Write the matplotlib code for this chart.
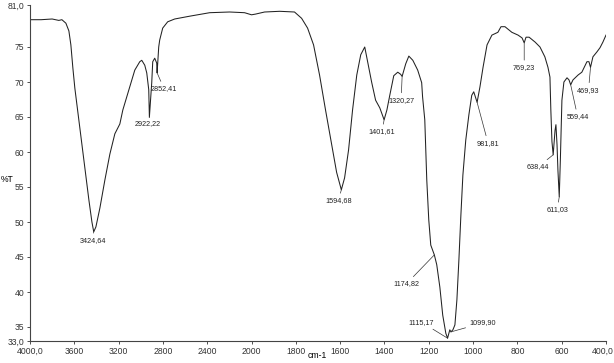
import numpy as np
import matplotlib
matplotlib.use("Agg")
import matplotlib.pyplot as plt
import matplotlib.transforms as mtransforms

# FTIR spectrum (wavenumber cm-1, %T)
wavenumber = [4000, 3900, 3800, 3740, 3712, 3676, 3649, 3631, 3613, 3595, 3568, 3541,
              3505, 3468, 3441, 3424.64, 3405, 3369, 3324, 3279, 3234, 3189, 3162, 3099,
              3054, 3009, 2991, 2964, 2946, 2928, 2922.22, 2901, 2892, 2874, 2856, 2852.41,
              2838, 2829, 2802, 2757, 2694, 2559, 2378, 2198, 2063, 2000, 1982, 1941,
              1873, 1806, 1774, 1747, 1720, 1693, 1666, 1638, 1616, 1594.68, 1580, 1562,
              1544, 1525, 1507, 1489, 1476, 1458, 1440, 1421, 1401.61, 1389, 1376, 1358,
              1340, 1327, 1320.27, 1304, 1290, 1272, 1250, 1232, 1228, 1218, 1209, 1200,
              1191, 1174.82, 1164, 1150, 1137, 1123, 1115.17, 1105, 1099.90, 1091, 1082,
              1073, 1064, 1055, 1046, 1033, 1019, 1006, 997, 981.81, 969, 955, 937, 915,
              888, 874, 856, 825, 797, 779, 769.23, 761, 747, 720, 698, 676, 662, 653,
              649, 644, 638.44, 630, 626, 621, 617, 611.03, 606, 599, 590, 576, 567,
              559.44, 549, 526, 509, 486, 477, 469.93, 459, 441, 427, 414, 400]
transmittance = [78.9, 78.9, 79.0, 78.8, 78.9, 78.4, 77.3, 75.3, 72.0, 69.1, 65.7, 62.3,
                 57.7, 53.1, 50.0, 48.6, 49.3, 52.0, 56.0, 59.7, 62.6, 64.0, 66.0, 69.3,
                 71.7, 72.9, 73.1, 72.4, 71.3, 68.9, 65.0, 69.9, 72.9, 73.4, 72.7, 71.3,
                 75.0, 76.0, 77.7, 78.6, 79.0, 79.4, 79.9, 80.0, 79.9, 79.6, 79.7, 80.0,
                 80.1, 80.0, 79.1, 77.7, 75.3, 71.0, 66.0, 61.0, 57.1, 54.6, 56.3, 60.3,
                 66.0, 71.0, 73.9, 75.0, 72.9, 70.0, 67.4, 66.3, 64.6, 66.0, 68.1, 70.9,
                 71.4, 71.1, 70.8, 72.6, 73.7, 73.1, 71.7, 69.9, 67.9, 64.6, 56.0, 50.3,
                 46.7, 45.3, 43.9, 40.7, 36.7, 34.1, 33.4, 34.6, 34.3, 34.6, 35.3,
                 38.9, 44.6, 51.0, 56.7, 61.7, 65.3, 68.1, 68.6, 67.1, 69.3, 72.1, 75.3, 76.7,
                 77.1, 77.9, 77.9, 77.1, 76.7, 76.3, 75.6, 76.4, 76.4, 75.7, 75.0, 73.6, 72.1, 70.7,
                 66.0, 61.5, 59.6, 63.1, 63.9, 61.0, 57.4, 53.6, 58.9, 67.4, 70.0, 70.6, 70.3,
                 69.6, 70.3, 71.0, 71.4, 72.9, 72.9, 72.1, 73.6, 74.3, 74.9, 75.7, 76.7]

# peak labels: wavenumber, text, offset of label from the peak in pixels
peaks = [3424.64, 2922.22, 2852.41, 1594.68, 1401.61, 1320.27, 1174.82, 1115.17,
         1099.90, 981.81, 769.23, 638.44, 611.03, 559.44, 469.93]
peak_labels = ["3424,64", "2922,22", "2852,41", "1594,68", "1401,61", "1320,27", "1174,82",
               "1115,17", "1099,90", "981,81", "769,23", "638,44", "611,03", "559,44", "469,93"]
label_offsets = [(-1, -9), (-2, -7), (7, -16), (-3, -11), (-2, -12), (-1, -24), (-28, -29),
                 (-26, 16), (32, 9), (11, -41), (0, -25), (-15, -12), (-2, -13), (7, -32), (-2, -23)]

x_ticks = [4000, 3600, 3200, 2800, 2400, 2000, 1800, 1600, 1400, 1200, 1000, 800, 600, 400]
x_ticklabels = ["4000,0", "3600", "3200", "2800", "2400", "2000", "1800", "1600", "1400",
                "1200", "1000", "800", "600", "400,0"]
y_ticks = [33, 35, 40, 45, 50, 55, 60, 65, 70, 75, 81]
y_ticklabels = ["33,0", "35", "40", "45", "50", "55", "60", "65", "70", "75", "81,0"]

plt.rcParams['font.family'] = ['Liberation Sans Narrow', 'Liberation Sans', 'DejaVu Sans']
plt.rcParams['font.size'] = 6


def fwd(x):
    x = np.asarray(x, dtype=float)
    return np.where(x <= 2000, x, 2000 + (x - 2000) / 2)


def inv(x):
    x = np.asarray(x, dtype=float)
    return np.where(x <= 2000, x, 2000 + (x - 2000) * 2)


fig = plt.figure(figsize=(6.14, 3.63), dpi=100)
ax = fig.add_axes([30 / 614, 22 / 363, 576 / 614, 336 / 363])
ax.set_xscale('function', functions=(fwd, inv))
ax.plot(wavenumber, transmittance, color='#222222', lw=0.75)
ax.set_xlim(4000, 400)
ax.set_ylim(33, 81)

ax.set_xticks(x_ticks)
ax.set_xticklabels(x_ticklabels)
ax.set_yticks(y_ticks)
ax.set_yticklabels(y_ticklabels)
ax.xaxis.set_minor_locator(matplotlib.ticker.NullLocator())
ax.tick_params(direction='out', length=2, width=0.6, pad=2, colors='#333333', labelsize=6.2)
for side in ['top', 'right']:
    ax.spines[side].set_visible(False)
for side in ['left', 'bottom']:
    ax.spines[side].set_linewidth(0.8)
    ax.spines[side].set_color('#444444')

# nudge the last x tick label so it stays inside the picture
last = ax.get_xticklabels()[-1]
last.set_transform(last.get_transform() +
                   mtransforms.ScaledTranslation(-3 / 100, 0, fig.dpi_scale_trans))

ax.set_xlabel('cm-1', fontsize=6.2, va='center')
ax.xaxis.set_label_coords((317 - 30) / 576, -15 / 336)
fig.text(1 / 614, 1 - 180 / 363, '%T', fontsize=6.2, va='center', ha='left')

wn_sorted = wavenumber[::-1]
t_sorted = transmittance[::-1]
for wn, txt, off in zip(peaks, peak_labels, label_offsets):
    t = np.interp(wn, wn_sorted, t_sorted)
    ax.annotate(txt, xy=(wn, t), xytext=off, textcoords='offset pixels',
                ha='center', va='center', fontsize=5.2, color='#222222',
                arrowprops=dict(arrowstyle='-', lw=0.5, color='#333333',
                                shrinkA=1, shrinkB=0))

fig.savefig('out.png', dpi=100)
